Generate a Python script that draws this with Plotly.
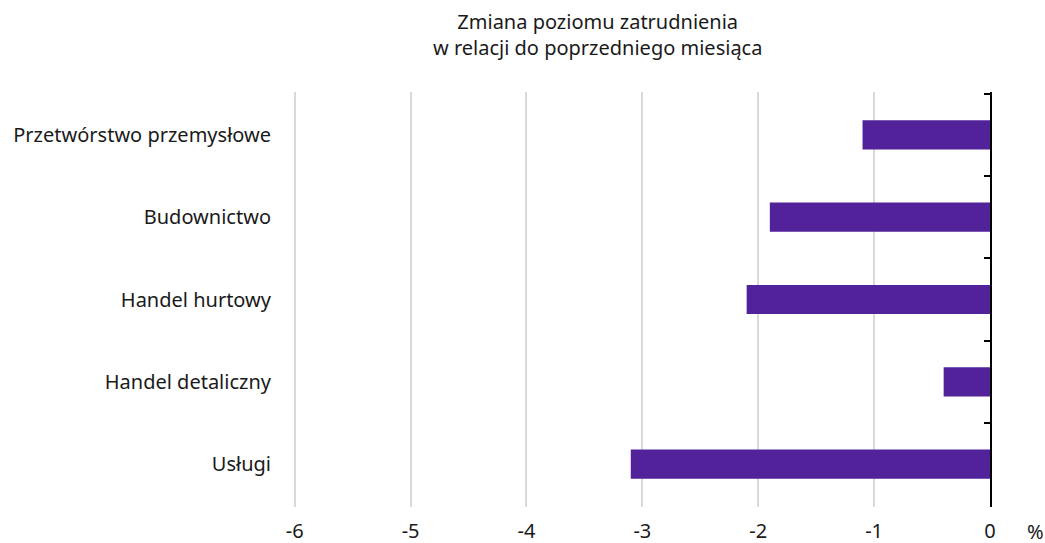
import plotly.graph_objects as go

categories = ["Przetwórstwo przemysłowe", "Budownictwo", "Handel hurtowy", "Handel detaliczny", "Usługi"]
values = [-1.1, -1.9, -2.1, -0.4, -3.1]
x_ticks = [-6, -5, -4, -3, -2, -1, 0]
title_text = "Zmiana poziomu zatrudnienia<br>w relacji do poprzedniego miesiąca"
unit_label = "%"

FONT = "Noto Sans"
BAR = "#51229a"
TXT = "#1a1a1a"
n = len(categories)
eps_x = 0.015
eps_y = 0.02

fig = go.Figure()
fig.add_trace(go.Bar(
    x=values, y=categories, orientation="h",
    marker=dict(color=BAR, line=dict(width=0)),
    width=0.355, showlegend=False, hoverinfo="x+y",
))
# invisible trace anchoring the right-hand axis (line + boundary ticks at x=0)
fig.add_trace(go.Scatter(
    x=[0] * n, y=categories, yaxis="y2", mode="markers",
    marker=dict(opacity=0), showlegend=False, hoverinfo="skip",
))

yrange = [n - 0.5 + eps_y, -0.5 - eps_y]
fig.update_layout(
    width=1045, height=543,
    margin=dict(l=293, r=55, t=92, b=36),
    plot_bgcolor="white", paper_bgcolor="white",
    font=dict(family=FONT, size=20, color=TXT),
    xaxis=dict(range=[-6 - eps_x, 0], tickvals=x_ticks, ticktext=[str(v) for v in x_ticks],
               showgrid=True, gridcolor="#d9d9d9", gridwidth=1.5, zeroline=False,
               showline=False, ticks="", ticklabelstandoff=10, automargin=False),
    yaxis=dict(type="category", categoryorder="array", categoryarray=categories,
               range=yrange, showgrid=False, showline=False, ticks="",
               ticklabelstandoff=21, automargin=False),
    yaxis2=dict(type="category", categoryorder="array", categoryarray=categories,
                overlaying="y", matches="y", range=yrange, side="right", showline=True,
                linecolor="black", linewidth=2, ticks="inside", ticklen=6, tickwidth=2,
                tickcolor="black", tickson="boundaries", showticklabels=False,
                showgrid=False, automargin=False),
)
fig.add_annotation(text=title_text, xref="paper", yref="paper",
                   x=(597 - 293) / (990 - 293), y=(507 - 35) / 415,
                   xanchor="center", yanchor="middle", showarrow=False,
                   font=dict(family=FONT, size=20, color=TXT))
fig.add_annotation(text=unit_label, xref="paper", yref="paper", x=(1035 - 293) / (990 - 293),
                   y=-24 / 415, xanchor="center", yanchor="middle", showarrow=False,
                   font=dict(family=FONT, size=20, color=TXT))

fig.write_html("out.html", config={"displayModeBar": False},
               post_script="document.body.style.margin='0';window.dispatchEvent(new Event('resize'));")
